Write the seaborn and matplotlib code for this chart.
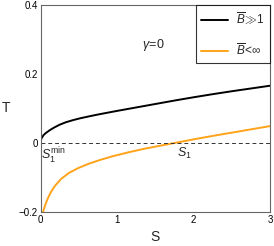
import numpy as np
import pandas as pd
import matplotlib
matplotlib.use("Agg")
import matplotlib.pyplot as plt
import seaborn as sns

# Data
s_black = [0, 0.001, 0.004, 0.01, 0.02, 0.04, 0.07, 0.12, 0.18, 0.25, 0.33, 0.42, 0.52,
           0.63, 0.75, 0.88, 1.0, 1.15, 1.35, 1.55, 1.75, 2.0, 2.25, 2.5, 2.75, 3.0]
t_black = [0, 0.004, 0.008, 0.012, 0.016, 0.023, 0.029, 0.037, 0.045, 0.053, 0.060, 0.066, 0.0717,
           0.077, 0.0825, 0.088, 0.093, 0.099, 0.107, 0.115, 0.123, 0.1325, 0.1415, 0.150, 0.158, 0.166]
s_orange = [0.034, 0.045, 0.06, 0.08, 0.105, 0.14, 0.19, 0.27, 0.37, 0.49, 0.62, 0.78, 0.95,
            1.15, 1.35, 1.55, 1.75, 2.0, 2.25, 2.5, 2.75, 3.0]
t_orange = [-0.2, -0.191, -0.181, -0.169, -0.156, -0.141, -0.124, -0.104, -0.087, -0.073, -0.061,
            -0.049, -0.038, -0.027, -0.017, -0.0085, 0.0, 0.0105, 0.0205, 0.030, 0.0395, 0.049]
label_black = r'$\overline{B}\!\gg\!1$'
label_orange = r'$\overline{B}\!<\!\infty$'
x_ticks = [0, 1, 2, 3]
y_ticks = [-0.2, 0, 0.2, 0.4]
y_ticklabels = ['\u22120.2', '0', '0.2', '0.4']

df = pd.concat([
    pd.DataFrame({'S': s_black, 'T': t_black, 'curve': label_black}),
    pd.DataFrame({'S': s_orange, 'T': t_orange, 'curve': label_orange}),
])

sns.set_style('white')
plt.rcParams['font.family'] = ['Liberation Sans', 'DejaVu Sans']
plt.rcParams['mathtext.fontset'] = 'custom'
plt.rcParams['mathtext.rm'] = 'Liberation Sans'
plt.rcParams['mathtext.it'] = 'Liberation Sans:italic'
plt.rcParams['mathtext.sf'] = 'Liberation Sans'

fig = plt.figure(figsize=(2.74, 2.46), dpi=100)
ax = fig.add_axes([40.5/274, 34/246, 229.5/274, 207/246])

sns.lineplot(data=df, x='S', y='T', hue='curve', sort=False,
             palette={label_black: 'black', label_orange: '#FFA31A'},
             linewidth=1.4, ax=ax, estimator=None)

ax.axhline(0, color='#333333', linestyle=(0, (4, 3)), linewidth=0.7)

ax.set_xlim(0, 3)
ax.set_ylim(-0.2, 0.4)
ax.set_xticks(x_ticks)
ax.set_xticklabels([str(v) for v in x_ticks])
ax.set_yticks(y_ticks)
ax.set_yticklabels(y_ticklabels)
ax.tick_params(direction='in', length=3, width=0.6, colors='#555555',
               labelsize=7, labelcolor='black', pad=2)
for sp in ax.spines.values():
    sp.set_color('#666666')
    sp.set_linewidth(0.8)

ax.set_xlabel('S', fontsize=10, labelpad=4)
ax.set_ylabel('')
fig.text(6/274, 1 - 108/246, 'T', fontsize=10, ha='center', va='center')

ax.text(1.47, 0.285, r'$\gamma\!=\!0$', fontsize=9, ha='center', va='center')
ax.text(0.0, -0.008, r'$S_1^{\mathrm{min}}$', fontsize=9, ha='left', va='top')
ax.text(1.79, -0.008, r'$S_1$', fontsize=9, ha='left', va='top')

leg = ax.legend(title=None, loc='upper right', fontsize=8.5, frameon=True,
                fancybox=False, borderaxespad=0.0, handlelength=2.3,
                handletextpad=0.7, borderpad=0.45, labelspacing=1.3)
leg.get_frame().set_edgecolor('black')
leg.get_frame().set_linewidth(0.8)

fig.savefig('out.png', dpi=100)
